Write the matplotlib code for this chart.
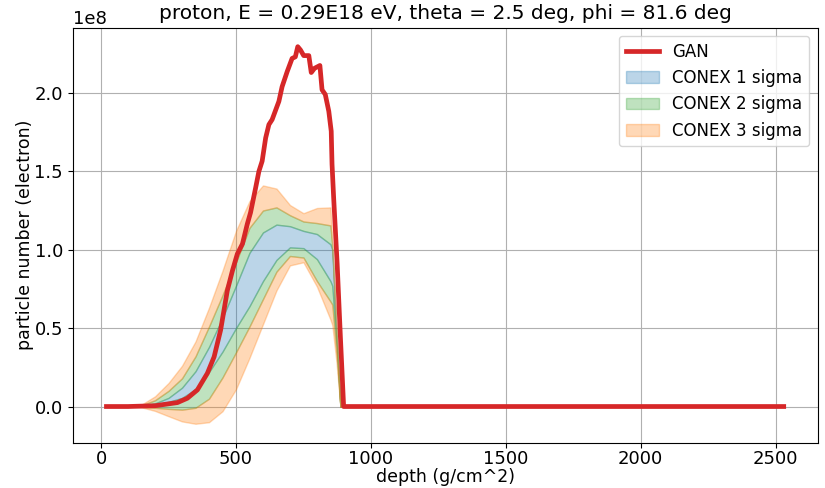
import matplotlib
matplotlib.use("Agg")
import matplotlib.pyplot as plt
import numpy as np

# GAN curve (depth in g/cm^2, particle number in units of 1e8)
gan_x = [20, 100, 200, 283, 320, 357, 394, 419, 443, 468, 487, 505, 524, 542, 554,
         573, 585, 597, 610, 622, 634, 659, 671, 690, 708, 720, 729, 739, 751, 770,
         779, 791, 811, 819, 831, 844, 853, 856, 862, 875, 887, 899, 1000, 1500, 2000, 2530]
gan_y = [0.0, 0.0, 0.005, 0.025, 0.053, 0.106, 0.212, 0.317, 0.487, 0.74, 0.867, 0.973, 1.037, 1.164, 1.237,
         1.396, 1.50, 1.565, 1.713, 1.798, 1.83, 1.946, 2.04, 2.137, 2.22, 2.23, 2.295, 2.274, 2.238, 2.238,
         2.13, 2.157, 2.175, 2.02, 1.99, 1.883, 1.756, 1.546, 1.332, 0.91, 0.444, 0.0, 0.0, 0.0, 0.0, 0.0]

# CONEX bands (units of 1e8)
conex_x = [20, 100, 150, 200, 250, 300, 350, 400, 450, 500, 550, 600, 650, 700, 750, 800, 850, 857, 872, 887, 2530]
lo3 = [0, 0, -0.005, -0.028, -0.062, -0.095, -0.11, -0.10, -0.03, 0.11, 0.31, 0.525, 0.74, 0.90, 0.92, 0.765, 0.555, 0.52, 0.29, 0, 0]
lo2 = [0, 0, -0.002, -0.008, -0.015, -0.02, -0.008, 0.05, 0.185, 0.345, 0.51, 0.685, 0.86, 0.96, 0.95, 0.80, 0.67, 0.65, 0.36, 0, 0]
lo1 = [0, 0, 0.002, 0.012, 0.03, 0.055, 0.11, 0.22, 0.35, 0.50, 0.64, 0.80, 0.935, 1.015, 1.01, 0.94, 0.80, 0.77, 0.42, 0, 0]
hi1 = [0, 0, 0.004, 0.02, 0.055, 0.12, 0.225, 0.38, 0.565, 0.77, 0.98, 1.11, 1.16, 1.15, 1.12, 1.10, 1.035, 1.0, 0.48, 0, 0]
hi2 = [0, 0, 0.008, 0.04, 0.10, 0.18, 0.32, 0.51, 0.71, 0.92, 1.14, 1.25, 1.27, 1.22, 1.18, 1.17, 1.155, 1.02, 0.49, 0, 0]
hi3 = [0, 0, 0.012, 0.065, 0.15, 0.26, 0.415, 0.63, 0.866, 1.12, 1.31, 1.41, 1.39, 1.285, 1.233, 1.266, 1.27, 1.04, 0.50, 0, 0]

title = "proton, E = 0.29E18 eV, theta = 2.5 deg, phi = 81.6 deg"
scale = 1e8

cx = np.array(conex_x, dtype=float)
L3, L2, L1 = (np.array(a) * scale for a in (lo3, lo2, lo1))
H1, H2, H3 = (np.array(a) * scale for a in (hi1, hi2, hi3))

fig = plt.figure(figsize=(8.25, 4.88), dpi=100)
ax = fig.add_axes([0.088, 0.093, 0.903, 0.850])

ax.grid(True, color="#b0b0b0", linewidth=0.8, zorder=0)
ax.set_axisbelow(True)

gan_line, = ax.plot(np.array(gan_x), np.array(gan_y) * scale, color="tab:red", linewidth=3.4,
                    label="GAN", zorder=5)

b1 = ax.fill_between(cx, L1, H1, color="tab:blue", alpha=0.3, label="CONEX 1 sigma", zorder=2)
b2 = ax.fill_between(cx, L2, L1, color="tab:green", alpha=0.3, label="CONEX 2 sigma", zorder=2)
ax.fill_between(cx, H1, H2, color="tab:green", alpha=0.3, zorder=2)
b3 = ax.fill_between(cx, L3, L2, color="tab:orange", alpha=0.3, label="CONEX 3 sigma", zorder=2)
ax.fill_between(cx, H2, H3, color="tab:orange", alpha=0.3, zorder=2)

ax.set_title(title, fontsize=14.5)
ax.set_xlabel("depth (g/cm^2)", fontsize=12.5)
ax.set_ylabel("particle number (electron)", fontsize=12.5)
ax.tick_params(labelsize=13)
ax.tick_params(axis="x", pad=1.5)
ax.xaxis.set_label_coords(0.5, -0.062)
ax.yaxis.set_label_coords(-0.052, 0.5)
ax.yaxis.get_offset_text().set_fontsize(13)
ax.set_xticks([0, 500, 1000, 1500, 2000, 2500])
ax.set_yticks(np.array([0.0, 0.5, 1.0, 1.5, 2.0]) * scale)

ax.legend(handles=[gan_line, b1, b2, b3], loc="upper right", fontsize=12)

fig.savefig("out.png", dpi=100)
